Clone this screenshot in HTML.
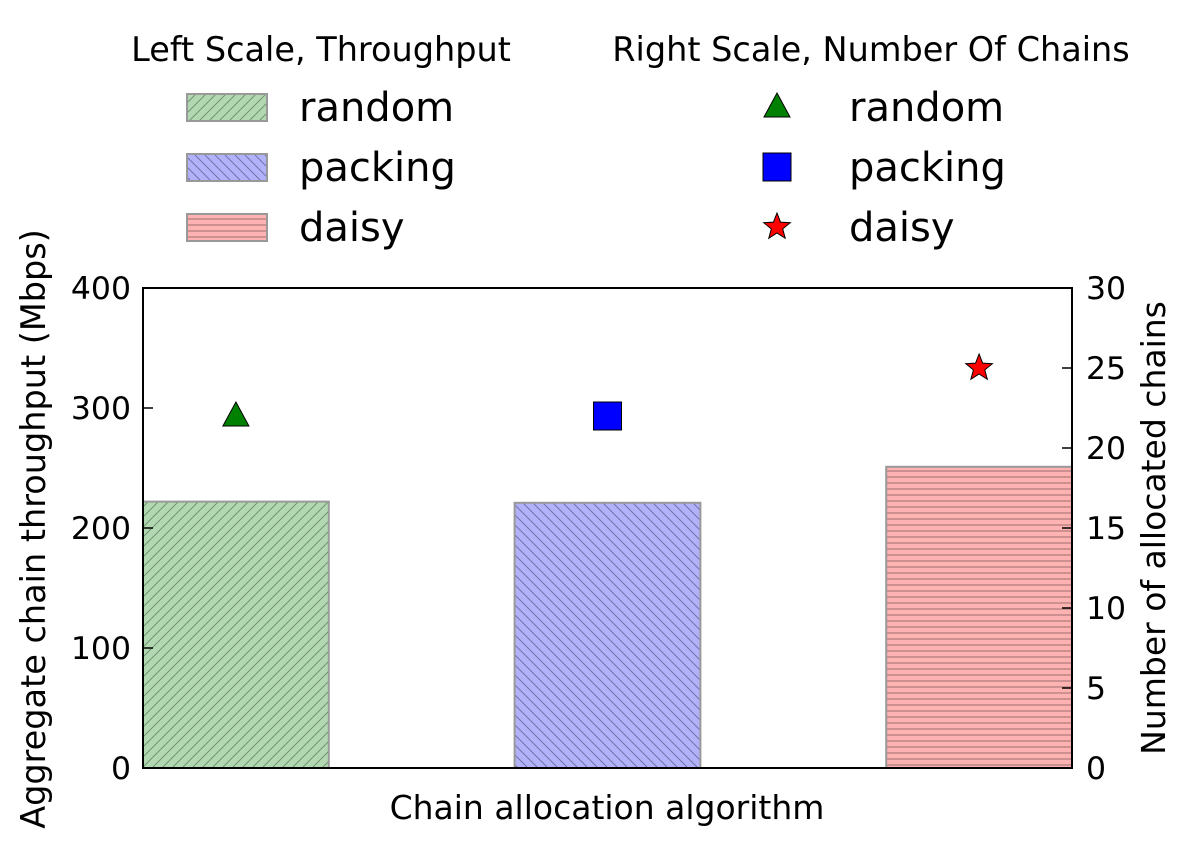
<!DOCTYPE html>
<html><head><meta charset="utf-8"><style>
body{margin:0;background:#fff;}
text{font-family:"DejaVu Sans","Liberation Sans",sans-serif;fill:#000;}
</style></head><body>
<svg id="chart" width="1192" height="847">
<defs>
<pattern id="hg" patternUnits="userSpaceOnUse" width="10" height="10"><rect width="10" height="10" fill="#b2d8b2"/><path d="M-1,11 L11,-1 M-1,1 L1,-1 M9,11 L11,9" stroke="#6a8a6a" stroke-width="0.9"/></pattern>
<pattern id="hb" patternUnits="userSpaceOnUse" width="10" height="10"><rect width="10" height="10" fill="#b2b2fa"/><path d="M-1,-1 L11,11 M9,-1 L11,1 M-1,9 L1,11" stroke="#6a6aa0" stroke-width="0.9"/></pattern>
<pattern id="hr" patternUnits="userSpaceOnUse" width="6" height="6"><rect width="6" height="6" fill="#ffb2b2"/><path d="M0,3 L6,3" stroke="#c08888" stroke-width="1.6"/></pattern>
</defs>
<g id="legend-left">
<text x="321" y="61" font-size="33.5" text-anchor="middle">Left Scale, Throughput</text>
</g>
<g id="legend-right">
<text x="871" y="61" font-size="33.5" text-anchor="middle">Right Scale, Number Of Chains</text>
</g>
<g id="plot"></g>
<rect x="143" y="288" width="929" height="480" fill="none" stroke="#000" stroke-width="2"/>
<text x="607" y="819" font-size="33" text-anchor="middle">Chain allocation algorithm</text>
<text transform="translate(45,529) rotate(-90)" font-size="33.5" text-anchor="middle">Aggregate chain throughput (Mbps)</text>
<text transform="translate(1165,528) rotate(-90)" font-size="33" text-anchor="middle">Number of allocated chains</text>
</svg>
<script>
const categories=["random","packing","daisy"];
const throughput=[222,221,251];
const chains=[22,22,25];
const leftTicks=[0,100,200,300,400];
const rightTicks=[0,5,10,15,20,25,30];
const fills=["url(#hg)","url(#hb)","url(#hr)"];
const markerColors=["#008000","#0000ff","#ff0000"];
const NS="http://www.w3.org/2000/svg";
const X0=143,X1=1072,Y0=768,Y1=288;
const xs=v=>X0+v/2.5*(X1-X0);
const yl=v=>Y0-v/400*(Y0-Y1);
const yr=v=>Y0-v/30*(Y0-Y1);
const plot=document.getElementById('plot');
function mk(tag,attrs,parent){const e=document.createElementNS(NS,tag);for(const k in attrs)e.setAttribute(k,attrs[k]);(parent||plot).appendChild(e);return e;}
function marker(i,cx,cy,parent){
  let e;
  if(i===0){e=mk('path',{d:`M${cx},${cy-14} L${cx+13},${cy+10} L${cx-13},${cy+10} Z`,fill:markerColors[i],stroke:'#000','stroke-width':1},parent);}
  else if(i===1){e=mk('rect',{x:cx-14,y:cy-14,width:28,height:28,fill:markerColors[i],stroke:'#000','stroke-width':1},parent);}
  else{let p=[];for(let k=0;k<10;k++){const r=k%2?6:14;const a=-Math.PI/2+k*Math.PI/5;p.push((cx+r*Math.cos(a)).toFixed(1)+','+(cy+r*Math.sin(a)).toFixed(1));}
    e=mk('polygon',{points:p.join(' '),fill:markerColors[i],stroke:'#000','stroke-width':1},parent);}
  return e;
}
categories.forEach((c,i)=>{
  const b=mk('rect',{x:xs(i),y:yl(throughput[i]),width:xs(i+0.5)-xs(i),height:Y0-yl(throughput[i]),fill:fills[i],stroke:'#999','stroke-width':2});
  
  
  const m=marker(i,xs(i+0.25),yr(chains[i]));
  
  
});
leftTicks.forEach(v=>{
  const l=mk('line',{x1:X0,x2:X0+10,y1:yl(v),y2:yl(v),stroke:'#000','stroke-width':1.5});
  
  
  const t=mk('text',{x:X0-12,y:yl(v)+11,'font-size':31.5,'text-anchor':'end'});t.textContent=v;
  
  
});
rightTicks.forEach(v=>{
  const l=mk('line',{x1:X1-10,x2:X1,y1:yr(v),y2:yr(v),stroke:'#000','stroke-width':1.5});
  
  
  const t=mk('text',{x:X1+14,y:yr(v)+11,'font-size':31.5});t.textContent=v;
  
  
});
const ll=document.getElementById('legend-left'),lr=document.getElementById('legend-right');
categories.forEach((c,i)=>{
  const y=107+i*60;
  const p=mk('rect',{x:187,y:y-13,width:80,height:27,fill:fills[i],stroke:'#999','stroke-width':2},ll);
  
  
  const t=mk('text',{x:299,y:y+14,'font-size':40},ll);t.textContent=c;
  
  
  const m=marker(i,777,y,lr);
  
  
  const t2=mk('text',{x:849,y:y+14,'font-size':40},lr);t2.textContent=c;
  
  
});
</script>
</body></html>
